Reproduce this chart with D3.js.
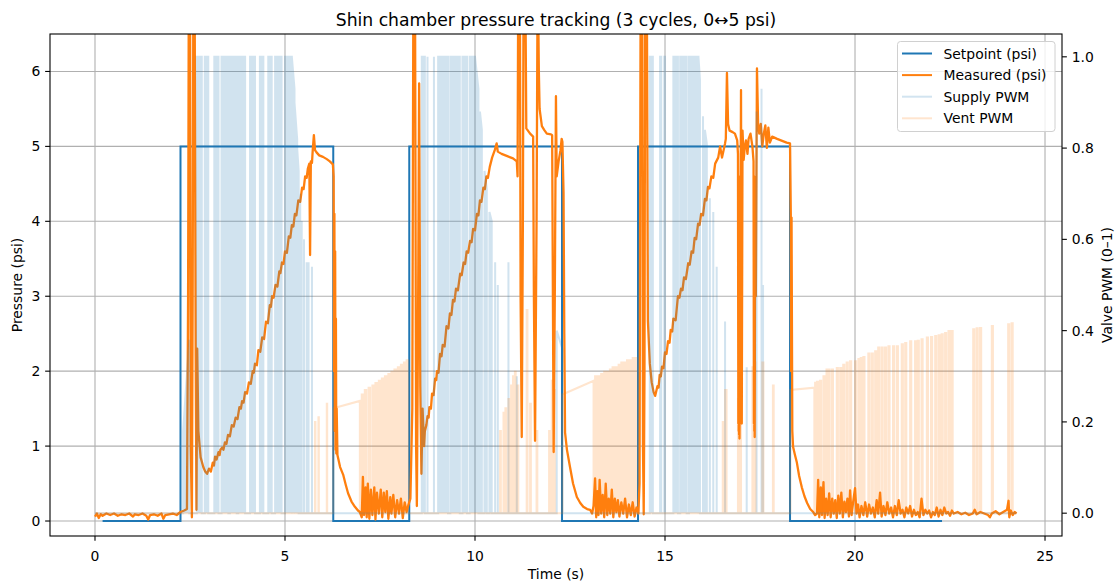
<!DOCTYPE html>
<html><head><meta charset="utf-8">
<script src="https://cdn.jsdelivr.net/npm/d3@7"></script>
<style>body{margin:0;background:#fff}svg{display:block;font-family:"DejaVu Sans",sans-serif}</style>
</head><body><svg id="c" width="1118" height="583"></svg>
<script>
// ---------------- data ----------------
const xTicks = [0,5,10,15,20,25];
const yTicks = [0,1,2,3,4,5,6];
const y2Ticks = [0,0.2,0.4,0.6,0.8,1.0];
const setpoint = [[0.2,0],[2.25,5],[6.27,0],[8.27,5],[12.29,0],[14.29,5],[18.29,0],[22.29,0]];
const measured = [
[0,0.06],[0.05,0.1],[0.1,0.04],[0.15,0.09],[0.2,0.07],[0.3,0.1],[0.4,0.08],[0.5,0.1],[0.6,0.07],[0.7,0.09],[0.8,0.08],[0.9,0.1],[1.0,0.06],[1.05,0.09],[1.15,0.08],[1.25,0.1],[1.35,0.07],[1.4,0.02],[1.45,0.08],[1.55,0.09],[1.65,0.07],[1.75,0.1],[1.8,0.03],[1.85,0.08],[1.95,0.09],[2.05,0.1],[2.15,0.08],[2.25,0.12],[2.35,0.14],
[2.42,0.16],[2.45,3.0],[2.47,7.5],[2.5,7.5],[2.52,1.0],[2.55,0.05],[2.57,3.0],[2.59,7.5],[2.62,7.5],[2.65,2.2],[2.67,0.15],[2.69,2.3],[2.72,1.2],[2.78,0.85],[2.85,0.72],[2.9,0.66],[2.95,0.63],[3.0,0.7],[3.05,0.66],[3.1,0.78],[3.13,0.74],[3.16,0.86],[3.2,0.82],[3.25,0.92],[3.28,0.88],[3.3,0.95],[3.35,0.98],[3.38,0.95],[3.42,1.05],[3.46,1.03],[3.5,1.15],[3.55,1.13],[3.6,1.28],[3.65,1.26],[3.7,1.38],[3.75,1.36],[3.8,1.52],[3.84,1.5],[3.87,1.6],[3.91,1.58],[3.95,1.72],[4.0,1.7],[4.05,1.85],[4.1,1.83],[4.15,2.0],[4.18,1.98],[4.21,2.1],[4.26,2.08],[4.3,2.28],[4.35,2.26],[4.4,2.45],[4.45,2.43],[4.5,2.66],[4.55,2.64],[4.6,2.88],[4.63,2.86],[4.66,3.0],[4.7,2.98],[4.75,3.15],[4.8,3.13],[4.85,3.33],[4.88,3.31],[4.92,3.45],[4.96,3.43],[5.0,3.6],[5.05,3.58],[5.1,3.8],[5.14,3.78],[5.18,3.95],[5.22,3.93],[5.26,4.1],[5.3,4.08],[5.35,4.28],[5.4,4.26],[5.45,4.45],[5.49,4.43],[5.53,4.6],[5.57,4.58],[5.6,4.7],[5.64,4.77],[5.66,3.55],[5.68,4.8],[5.71,4.78],[5.73,4.95],[5.76,5.15],[5.79,4.95],[5.83,4.92],[5.9,4.88],[6.0,4.86],[6.1,4.83],[6.18,4.8],[6.26,4.76],
[6.28,4.6],[6.29,2.0],[6.3,4.1],[6.31,1.2],[6.32,3.6],[6.33,0.95],[6.34,2.7],[6.35,0.9],[6.36,1.5],[6.38,0.88],[6.45,0.72],[6.53,0.62],[6.6,0.48],[6.66,0.37],[6.75,0.26],[6.84,0.19],[6.92,0.14],[6.97,0.12],
[7.02,0.05],[7.05,0.59],[7.08,0.08],[7.12,0.45],[7.15,0.05],[7.18,0.5],[7.22,0.03],[7.26,0.42],[7.3,0.08],[7.35,0.45],[7.38,0.02],[7.42,0.38],[7.47,0.1],[7.52,0.42],[7.56,0.05],[7.6,0.38],[7.64,0.12],[7.68,0.4],[7.72,0.03],[7.77,0.32],[7.8,0.1],[7.85,0.35],[7.9,0.05],[7.95,0.28],[8.0,0.1],[8.05,0.3],[8.1,0.04],[8.15,0.25],[8.2,0.12],[8.25,0.22],
[8.3,0.3],[8.35,1.5],[8.38,7.5],[8.42,7.5],[8.45,1.0],[8.47,0.2],[8.5,2.5],[8.53,5.84],[8.56,1.8],[8.59,0.63],[8.62,1.5],[8.66,1.0],[8.68,1.2],[8.72,1.28],[8.75,1.4],[8.78,1.38],[8.8,1.52],[8.84,1.5],[8.87,1.7],[8.91,1.68],[8.95,1.9],[8.98,1.88],[9.0,2.0],[9.04,1.98],[9.08,2.23],[9.12,2.2],[9.15,2.35],[9.2,2.33],[9.25,2.6],[9.3,2.57],[9.34,2.77],[9.38,2.75],[9.42,2.95],[9.46,2.93],[9.5,3.1],[9.55,3.08],[9.61,3.3],[9.65,3.28],[9.7,3.45],[9.74,3.43],[9.78,3.6],[9.82,3.58],[9.87,3.74],[9.91,3.72],[9.95,3.9],[10.0,3.88],[10.05,4.1],[10.09,4.08],[10.13,4.28],[10.17,4.26],[10.22,4.45],[10.26,4.43],[10.3,4.6],[10.34,4.58],[10.39,4.73],[10.45,4.85],[10.52,4.95],[10.57,5.04],[10.6,4.93],[10.7,4.9],[10.85,4.87],[11.0,4.84],[11.1,4.8],[11.12,4.6],[11.14,7.5],[11.18,7.5],[11.2,3.0],[11.23,1.12],[11.26,4.0],[11.28,7.5],[11.32,7.5],[11.35,5.24],[11.45,5.17],[11.53,5.13],[11.55,3.0],[11.58,1.07],[11.62,4.0],[11.65,7.5],[11.68,6.0],[11.7,5.5],[11.76,5.27],[11.82,5.22],[11.89,5.17],[12.0,5.16],[12.03,5.15],[12.05,3.0],[12.07,0.92],[12.1,3.0],[12.13,5.67],[12.15,4.6],[12.2,4.8],[12.25,4.95],[12.28,5.1],[12.3,5.06],[12.33,4.38],[12.35,2.5],[12.37,1.18],
[12.42,0.95],[12.5,0.72],[12.58,0.5],[12.68,0.32],[12.77,0.24],[12.85,0.19],[12.95,0.16],[13.03,0.15],[13.08,0.1],[13.12,0.2],[13.16,0.57],[13.19,0.05],[13.22,0.4],[13.25,0.08],[13.28,0.55],[13.32,0.1],[13.36,0.35],[13.4,0.05],[13.44,0.5],[13.48,0.08],[13.52,0.3],[13.56,0.1],[13.6,0.42],[13.64,0.05],[13.68,0.3],[13.72,0.12],[13.76,0.28],[13.8,0.06],[13.85,0.25],[13.9,0.1],[13.95,0.3],[14.0,0.05],[14.05,0.22],[14.1,0.08],[14.15,0.25],[14.2,0.06],[14.25,0.18],[14.3,0.1],
[14.33,0.5],[14.36,7.5],[14.4,7.5],[14.42,1.0],[14.44,0.09],[14.46,2.0],[14.48,7.5],[14.52,7.5],[14.55,2.67],[14.6,2.1],[14.65,1.85],[14.7,1.72],[14.74,1.67],[14.8,1.8],[14.83,1.78],[14.86,1.95],[14.89,1.93],[14.92,2.06],[14.96,2.04],[15.0,2.25],[15.04,2.23],[15.08,2.4],[15.12,2.38],[15.15,2.55],[15.19,2.53],[15.22,2.7],[15.28,2.68],[15.34,3.0],[15.38,2.98],[15.42,3.1],[15.46,3.08],[15.5,3.25],[15.55,3.23],[15.61,3.44],[15.65,3.42],[15.7,3.6],[15.74,3.58],[15.78,3.78],[15.82,3.76],[15.87,3.97],[15.91,3.95],[15.95,4.1],[16.0,4.08],[16.05,4.3],[16.09,4.28],[16.13,4.46],[16.17,4.44],[16.22,4.6],[16.27,4.58],[16.32,4.77],[16.4,4.85],[16.45,5.0],[16.5,4.85],[16.58,5.04],[16.6,5.1],[16.63,5.98],[16.66,5.3],[16.7,5.21],[16.78,5.19],[16.84,5.17],[16.9,5.08],[16.92,4.9],[16.93,1.3],[16.935,4.6],[16.94,1.2],[16.945,4.2],[16.95,1.15],[16.955,3.8],[16.96,1.1],[16.98,3.0],[17.0,5.75],[17.02,1.3],[17.04,5.21],[17.07,4.82],[17.1,5.0],[17.13,5.08],[17.17,4.9],[17.2,5.1],[17.25,5.17],[17.3,5.0],[17.33,4.8],[17.34,1.3],[17.345,4.6],[17.35,1.2],[17.355,4.2],[17.36,1.12],[17.37,3.5],[17.39,3.0],[17.42,6.04],[17.45,5.3],[17.48,5.17],[17.52,5.3],[17.56,5.0],[17.6,5.17],[17.64,5.28],[17.68,4.98],[17.72,5.25],[17.76,5.05],[17.82,5.13],[17.95,5.1],[18.1,5.07],[18.2,5.05],[18.29,5.04],
[18.31,4.1],[18.32,2.0],[18.33,4.05],[18.35,1.2],[18.37,0.99],[18.42,0.88],[18.47,0.78],[18.53,0.6],[18.6,0.45],[18.67,0.33],[18.74,0.24],[18.82,0.16],[18.9,0.12],[18.95,0.08],[19.0,0.1],[19.03,0.55],[19.06,0.05],[19.1,0.45],[19.13,0.08],[19.17,0.52],[19.2,0.04],[19.24,0.3],[19.28,0.08],[19.32,0.37],[19.36,0.05],[19.4,0.3],[19.44,0.1],[19.48,0.28],[19.52,0.04],[19.56,0.34],[19.6,0.1],[19.64,0.38],[19.68,0.05],[19.72,0.26],[19.76,0.12],[19.8,0.3],[19.84,0.06],[19.87,0.41],[19.91,0.08],[19.95,0.25],[20.0,0.44],[20.04,0.1],[20.08,0.22],[20.12,0.05],[20.17,0.2],[20.22,0.08],[20.27,0.25],[20.32,0.06],[20.37,0.22],[20.42,0.1],[20.47,0.18],[20.52,0.05],[20.57,0.28],[20.61,0.1],[20.66,0.38],[20.7,0.06],[20.75,0.2],[20.8,0.08],[20.85,0.25],[20.9,0.1],[20.95,0.18],[21.0,0.05],[21.05,0.2],[21.1,0.08],[21.15,0.28],[21.2,0.1],[21.25,0.15],[21.3,0.05],[21.35,0.18],[21.4,0.1],[21.45,0.2],[21.5,0.06],[21.55,0.15],[21.6,0.08],[21.65,0.12],[21.7,0.05],[21.75,0.3],[21.8,0.08],[21.85,0.15],[21.9,0.1],[21.95,0.14],[22.0,0.05],[22.05,0.12],[22.1,0.08],[22.15,0.18],[22.2,0.06],[22.25,0.15],[22.3,0.08],[22.35,0.18],[22.4,0.1],[22.45,0.12],[22.5,0.07],[22.55,0.14],[22.6,0.1],[22.7,0.12],[22.8,0.09],[22.9,0.11],[23.0,0.08],[23.1,0.1],[23.15,0.15],[23.2,0.09],[23.3,0.12],[23.4,0.1],[23.5,0.08],[23.55,0.05],[23.6,0.1],[23.7,0.13],[23.8,0.09],[23.9,0.12],[24.0,0.15],[24.04,0.27],[24.06,0.05],[24.1,0.14],[24.15,0.08],[24.2,0.12],[24.25,0.1]
];
// PWM shapes: [tStart, tEnd, vStart, vEnd, filled(1) or outline(0)]
const supplyShapes = [
[2.32,2.48,0.18,0.38,1],
[2.68,2.81,1,1,1],[2.89,2.98,1,1,1],[3.14,3.25,1,1,1],[3.33,3.51,1,1,1],[3.55,3.73,1,1,1],[3.77,3.95,1,1,1],[4.08,4.21,1,1,1],[4.34,4.43,1,1,1],[4.56,4.65,1,1,1],[4.74,4.91,1,1,1],[5.0,5.18,1,1,1],
[5.18,5.25,1,0.93,1],[5.25,5.32,0.9,0.82,1],[5.32,5.36,0.8,0.75,1],[5.4,5.4,0.7,0.7,0],[5.44,5.44,0.64,0.64,0],[5.5,5.5,0.6,0.6,0],[5.57,5.57,0.55,0.55,0],[5.62,5.62,0.55,0.55,0],[5.71,5.71,0.54,0.54,0],
[8.6,8.68,1,1,1],[8.75,8.75,1,1,0],[8.92,8.92,1,1,0],[9.03,9.29,1,1,1],[9.35,9.6,1,1,1],[9.67,9.79,1,1,1],[9.86,10.0,1,1,1],
[10.0,10.09,1,0.93,1],[10.13,10.18,0.88,0.84,1],[10.25,10.31,0.75,0.71,1],[10.38,10.44,0.66,0.64,1],[10.53,10.53,0.55,0.55,0],[10.6,10.6,0.5,0.5,0],[10.88,10.88,0.55,0.55,0],[11.1,11.1,0.3,0.3,0],[12.15,12.3,0.4,0.36,0],
[14.6,14.68,1,1,1],[14.87,14.9,1,1,1],[14.98,15.0,1,1,1],[15.22,15.34,1,1,1],[15.4,15.57,1,1,1],[15.63,15.88,1,1,1],
[15.88,15.92,1,0.95,1],[16.0,16.0,0.87,0.87,0],[16.05,16.1,0.84,0.81,1],[16.18,16.18,0.69,0.69,0],[16.27,16.27,0.66,0.66,0],[16.36,16.36,0.54,0.54,0],[16.58,16.58,0.42,0.42,0],[17.15,17.15,0.32,0.32,0],[17.41,17.41,0.88,0.88,0],[17.54,17.54,0.93,0.93,0],[17.58,17.58,0.5,0.5,0]
];
const ventShapes = [
[5.79,5.8,0.2,0.2,0],[5.88,5.89,0.21,0.21,0],[6.1,6.11,0.24,0.24,0],[6.27,6.97,0.23,0.246,0],
[7.02,7.06,0.26,0.26,1],[7.1,7.14,0.27,0.27,1],[7.2,7.24,0.275,0.275,1],[7.3,7.33,0.28,0.28,1],[7.38,7.42,0.285,0.285,1],[7.47,7.5,0.29,0.29,1],[7.55,7.59,0.295,0.295,1],[7.63,7.67,0.3,0.3,1],[7.72,7.75,0.305,0.305,1],[7.8,7.84,0.31,0.31,1],[7.88,7.92,0.315,0.315,1],[7.97,8.0,0.32,0.32,1],[8.05,8.09,0.325,0.325,1],[8.13,8.17,0.33,0.33,1],[8.2,8.24,0.335,0.335,1],
[10.66,10.68,0.18,0.18,0],[10.75,10.77,0.22,0.22,0],[10.8,10.82,0.23,0.23,0],[10.88,10.9,0.25,0.25,0],[10.95,10.97,0.28,0.28,0],[11.0,11.02,0.3,0.3,0],[11.05,11.07,0.31,0.31,0],[11.12,11.14,0.28,0.28,0],[11.36,11.38,0.445,0.445,0],[11.45,11.47,0.24,0.24,0],[11.62,11.64,0.18,0.18,0],[11.95,11.97,0.18,0.18,0],[12.02,12.04,0.29,0.29,0],[12.08,12.1,0.27,0.27,0],
[12.3,13.12,0.26,0.29,0],
[13.16,13.19,0.3,0.3,1],[13.24,13.27,0.3,0.3,1],[13.32,13.35,0.305,0.305,1],[13.4,13.43,0.31,0.31,1],[13.47,13.5,0.31,0.31,1],[13.55,13.58,0.315,0.315,1],[13.62,13.65,0.32,0.32,1],[13.7,13.73,0.32,0.32,1],[13.78,13.81,0.325,0.325,1],[13.85,13.88,0.33,0.33,1],[13.93,13.96,0.33,0.33,1],[14.0,14.03,0.335,0.335,1],[14.08,14.11,0.335,0.335,1],[14.15,14.18,0.34,0.34,1],[14.22,14.25,0.34,0.34,1],
[16.52,16.54,0.2,0.2,0],[16.58,16.62,0.27,0.27,0],[16.92,16.94,0.25,0.25,0],[16.98,17.0,0.3,0.3,0],[17.3,17.33,0.32,0.32,0],[17.36,17.38,0.33,0.33,0],[17.56,17.59,0.33,0.33,0],[17.84,17.86,0.28,0.28,0],
[18.3,18.93,0.27,0.275,0],
[18.95,18.98,0.286,0.286,1],[19.0,19.03,0.288,0.288,1],[19.08,19.11,0.29,0.29,1],[19.17,19.2,0.3,0.3,1],[19.25,19.28,0.315,0.315,1],[19.3,19.33,0.315,0.315,1],[19.39,19.42,0.315,0.315,1],[19.52,19.55,0.318,0.318,1],[19.61,19.64,0.318,0.318,1],[19.69,19.72,0.325,0.325,1],[19.78,19.81,0.33,0.33,1],[19.87,19.9,0.333,0.333,1],[20.0,20.03,0.333,0.333,1],[20.09,20.12,0.338,0.338,1],[20.15,20.18,0.34,0.34,1],[20.22,20.25,0.342,0.342,1],[20.35,20.38,0.35,0.35,1],[20.44,20.47,0.35,0.35,1],[20.53,20.56,0.355,0.355,1],[20.61,20.64,0.363,0.363,1],[20.7,20.73,0.363,0.363,1],[20.79,20.82,0.363,0.363,1],[20.88,20.91,0.366,0.366,1],[21.0,21.03,0.366,0.366,1],[21.1,21.13,0.366,0.366,1],[21.23,21.26,0.37,0.37,1],[21.32,21.35,0.373,0.373,1],[21.45,21.48,0.377,0.377,1],[21.58,21.61,0.377,0.377,1],[21.65,21.68,0.378,0.378,1],[21.75,21.78,0.381,0.381,1],[21.89,21.92,0.385,0.385,1],[22.0,22.03,0.386,0.386,1],[22.11,22.14,0.388,0.388,1],[22.2,22.23,0.39,0.39,1],[22.28,22.31,0.392,0.392,1],[22.37,22.4,0.395,0.395,1],[22.46,22.49,0.399,0.399,1],[22.54,22.57,0.399,0.399,1],[23.11,23.14,0.403,0.403,1],[23.2,23.23,0.405,0.405,1],[23.29,23.32,0.406,0.406,1],[23.6,23.63,0.41,0.41,1],[24.03,24.06,0.414,0.414,1],[24.12,24.15,0.416,0.416,1]
];
const legendItems = [
  {label:"Setpoint (psi)", color:"#1f77b4", op:1},
  {label:"Measured (psi)", color:"#ff7f0e", op:1},
  {label:"Supply PWM", color:"#1f77b4", op:0.2},
  {label:"Vent PWM", color:"#ff7f0e", op:0.2}
];

// ---------------- layout ----------------
const L=50, R=1062, T=34, B=536;
const svg = d3.select("#c");
const x = d3.scaleLinear().domain([-1.184, 25.447]).range([L, R]);
const y = d3.scaleLinear().domain([-0.2, 6.5]).range([B, T]);
const y2 = d3.scaleLinear().domain([-0.05, 1.05]).range([B, T]);

svg.append("defs").append("clipPath").attr("id","clip")
  .append("rect").attr("x",L).attr("y",T).attr("width",R-L).attr("height",B-T);

// grid
const grid = svg.append("g").attr("stroke","#b0b0b0").attr("stroke-width",1.1);
xTicks.forEach(t=>grid.append("line").attr("x1",x(t)).attr("x2",x(t)).attr("y1",T).attr("y2",B));
yTicks.forEach(t=>grid.append("line").attr("x1",L).attr("x2",R).attr("y1",y(t)).attr("y2",y(t)));

const plot = svg.append("g").attr("clip-path","url(#clip)");
// setpoint
plot.append("path").datum(setpoint)
  .attr("d", d3.line().x(d=>x(d[0])).y(d=>y(d[1])).curve(d3.curveStepAfter))
  .attr("fill","none").attr("stroke","#1f77b4").attr("stroke-width",2);
// measured
plot.append("path").datum(measured)
  .attr("d", d3.line().x(d=>x(d[0])).y(d=>y(d[1])))
  .attr("fill","none").attr("stroke","#ff7f0e").attr("stroke-width",2.3).attr("stroke-linejoin","round");

// PWM
function drawPWM(shapes, color, tEnd){
  const g = plot.append("g").attr("opacity",0.2);
  const sorted = shapes.slice().sort((a,b)=>a[0]-b[0]);
  const area = d3.area().x(d=>x(d[0])).y0(y2(0)).y1(d=>y2(d[1]));
  const fillD = sorted.filter(s=>s[4]===1).map(s=>area([[s[0],s[2]],[s[1],s[3]]])).join("");
  g.append("path").attr("d",fillD).attr("fill",color).attr("stroke","none");
  const pts = [[0,0]];
  sorted.forEach(s=>{pts.push([s[0],0],[s[0],s[2]],[s[1],s[3]],[s[1],0]);});
  pts.push([tEnd,0]);
  g.append("path").datum(pts).attr("d", d3.line().x(d=>x(d[0])).y(d=>y2(d[1])))
    .attr("fill","none").attr("stroke",color).attr("stroke-width",2).attr("stroke-linejoin","miter");
}
drawPWM(supplyShapes, "#1f77b4", 24.25);
drawPWM(ventShapes, "#ff7f0e", 24.25);

// axes
const ax = svg.append("g").attr("font-size","13.9px").attr("fill","#000");
const tl = 4.86;
xTicks.forEach(t=>{
  ax.append("line").attr("x1",x(t)).attr("x2",x(t)).attr("y1",B).attr("y2",B+tl).attr("stroke","#000").attr("stroke-width",1.1);
  ax.append("text").attr("x",x(t)).attr("y",B+25).attr("text-anchor","middle").text(d3.format("d")(t));
});
yTicks.forEach(t=>{
  ax.append("line").attr("x1",L-tl).attr("x2",L).attr("y1",y(t)).attr("y2",y(t)).attr("stroke","#000").attr("stroke-width",1.1);
  ax.append("text").attr("x",L-9.7).attr("y",y(t)+5).attr("text-anchor","end").text(d3.format("d")(t));
});
y2Ticks.forEach(t=>{
  ax.append("line").attr("x1",R).attr("x2",R+tl).attr("y1",y2(t)).attr("y2",y2(t)).attr("stroke","#000").attr("stroke-width",1.1);
  ax.append("text").attr("x",R+9.7).attr("y",y2(t)+5).attr("text-anchor","start").text(d3.format(".1f")(t));
});
svg.append("rect").attr("x",L).attr("y",T).attr("width",R-L).attr("height",B-T)
  .attr("fill","none").attr("stroke","#000").attr("stroke-width",1.1);

svg.append("text").attr("x",(L+R)/2).attr("y",26).attr("text-anchor","middle").attr("font-size","17.2px")
  .text("Shin chamber pressure tracking (3 cycles, 0\u21945 psi)");
svg.append("text").attr("x",(L+R)/2).attr("y",579).attr("text-anchor","middle").attr("font-size","13.9px").text("Time (s)");
svg.append("text").attr("transform",`translate(22,${(T+B)/2}) rotate(-90)`).attr("text-anchor","middle").attr("font-size","13.9px").text("Pressure (psi)");
svg.append("text").attr("transform",`translate(1112,${(T+B)/2}) rotate(-90)`).attr("text-anchor","middle").attr("font-size","13.9px").text("Valve PWM (0\u20131)");

// legend
const lg = svg.append("g");
lg.append("rect").attr("x",897.5).attr("y",41.5).attr("width",157.5).attr("height",90).attr("rx",3)
  .attr("fill","#fff").attr("fill-opacity",0.8).attr("stroke","#d0d0d0").attr("stroke-width",1);
legendItems.forEach((d,i)=>{
  const yy = 53.5 + i*21.6;
  lg.append("line").attr("x1",902).attr("x2",932).attr("y1",yy).attr("y2",yy)
    .attr("stroke",d.color).attr("stroke-opacity",d.op).attr("stroke-width",2);
  lg.append("text").attr("x",943.5).attr("y",yy+5).attr("font-size","13.9px").text(d.label);
});
</script></body></html>
